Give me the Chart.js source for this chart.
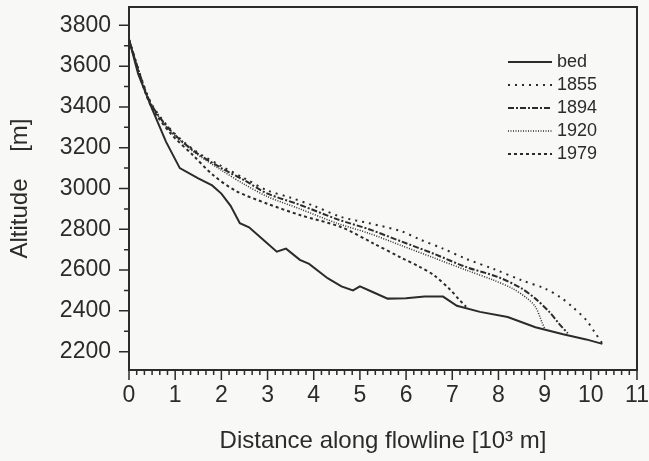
<!DOCTYPE html>
<html>
<head>
<meta charset="utf-8">
<script src="https://cdn.jsdelivr.net/npm/chart.js@4.4.1/dist/chart.umd.min.js"></script>
<style>
  html, body { margin: 0; padding: 0; background: #f8f9f7; }
  #wrap { width: 649px; height: 461px; }
</style>
</head>
<body>
<div id="wrap"><canvas id="myChart" width="649" height="461"></canvas></div>
<script>
// distance along flowline, 10^3 m / altitude, m
const bedX = [0, 0.2, 0.5, 0.8, 1.1, 1.5, 1.8, 2.0, 2.2, 2.4, 2.6, 2.9, 3.2, 3.4, 3.7, 3.9, 4.3, 4.6, 4.85, 5.0, 5.3, 5.6, 6.0, 6.4, 6.8, 7.1, 7.6, 8.2, 8.8, 9.4, 9.9, 10.25];
const bedY = [3730, 3560, 3390, 3230, 3100, 3050, 3015, 2975, 2915, 2830, 2810, 2750, 2690, 2705, 2650, 2630, 2560, 2520, 2500, 2520, 2490, 2460, 2462, 2470, 2470, 2425, 2395, 2370, 2320, 2285, 2260, 2238];

const x1855 = [0, 0.3, 0.5, 0.9, 1.4, 2.0, 2.5, 3.0, 3.5, 4.0, 4.6, 5.2, 5.9, 6.3, 6.8, 7.3, 7.9, 8.5, 9.0, 9.35, 9.6, 9.9, 10.1, 10.25];
const y1855 = [3730, 3520, 3410, 3290, 3190, 3110, 3050, 2990, 2955, 2915, 2860, 2830, 2790, 2750, 2705, 2655, 2605, 2550, 2510, 2465, 2420, 2355, 2290, 2240];

const x1894 = [0, 0.3, 0.5, 0.9, 1.4, 2.0, 2.5, 3.0, 3.7, 4.5, 5.2, 5.9, 6.6, 7.3, 8.0, 8.5, 8.8, 9.1, 9.3, 9.5];
const y1894 = [3730, 3515, 3405, 3285, 3185, 3100, 3040, 2975, 2920, 2850, 2800, 2740, 2680, 2615, 2565, 2510, 2460, 2395, 2340, 2290];

const x1920 = [0, 0.3, 0.5, 0.9, 1.4, 2.0, 2.5, 3.0, 3.7, 4.5, 5.2, 5.9, 6.6, 7.3, 7.9, 8.3, 8.6, 8.8, 8.95, 9.0];
const y1920 = [3730, 3510, 3400, 3280, 3180, 3090, 3020, 2960, 2900, 2830, 2780, 2720, 2660, 2600, 2550, 2510, 2465, 2420, 2340, 2313];

const x1979 = [0, 0.3, 0.5, 0.9, 1.4, 1.8, 2.3, 3.0, 3.7, 4.6, 5.3, 5.9, 6.3, 6.6, 6.95, 7.15, 7.3];
const y1979 = [3730, 3505, 3395, 3270, 3160, 3070, 2990, 2925, 2870, 2810, 2730, 2660, 2615, 2575, 2505, 2455, 2420];

const xTicks = [0, 1, 2, 3, 4, 5, 6, 7, 8, 9, 10, 11];
const yTicks = [2200, 2300, 2400, 2500, 2600, 2700, 2800, 2900, 3000, 3100, 3200, 3300, 3400, 3500, 3600, 3700, 3800];

const ink = '#2b2b2b';
const font = 'Liberation Sans, Arial, sans-serif';

const pts = (xs, ys) => xs.map((v, i) => ({ x: v, y: ys[i] }));

const series = [
    { label: 'bed',  data: pts(bedX, bedY),   dash: [],           width: 2,   smooth: 0 },
    { label: '1855', data: pts(x1855, y1855), dash: [2, 5],       width: 2,   smooth: 0.3 },
    { label: '1894', data: pts(x1894, y1894), dash: [6, 2, 2, 2], width: 2,   smooth: 0.3 },
    { label: '1920', data: pts(x1920, y1920), dash: [1, 1.5],     width: 1.5, smooth: 0.3 },
    { label: '1979', data: pts(x1979, y1979), dash: [3, 3],       width: 2,   smooth: 0.3 }
];

// box, tick marks (major + minor) and legend
const frame = {
    id: 'frame',
    afterDraw(chart) {
        const { ctx, chartArea: a, scales: { x, y } } = chart;
        ctx.save();
        ctx.strokeStyle = ink;
        ctx.lineWidth = 2;
        ctx.strokeRect(a.left, a.top, a.right - a.left, a.bottom - a.top);
        ctx.lineWidth = 1.5;
        ctx.beginPath();
        for (let i = 0; i <= 66; i++) {
            const px = x.getPixelForValue(i / 6);
            const len = i % 6 === 0 ? 10 : 5;
            ctx.moveTo(px, a.bottom);
            ctx.lineTo(px, a.bottom + len);
        }
        yTicks.forEach(v => {
            const py = y.getPixelForValue(v);
            const len = v % 200 === 0 ? 10 : 5;
            ctx.moveTo(a.left, py);
            ctx.lineTo(a.left - len, py);
        });
        ctx.stroke();

        // legend
        ctx.font = '18px ' + font;
        ctx.textBaseline = 'middle';
        ctx.fillStyle = ink;
        chart.data.datasets.forEach((ds, i) => {
            const ly = 62 + i * 23;
            ctx.beginPath();
            ctx.setLineDash(ds.borderDash);
            ctx.lineWidth = ds.borderWidth;
            ctx.moveTo(508, ly);
            ctx.lineTo(552, ly);
            ctx.stroke();
            ctx.setLineDash([]);
            ctx.fillText(ds.label, 557, ly);
        });
        ctx.restore();
    }
};

const canvas = document.getElementById('myChart');
const chart = new Chart(canvas.getContext('2d'), {
    type: 'line',
    data: {
        datasets: series.map(s => ({
            label: s.label,
            data: s.data,
            borderColor: ink,
            borderWidth: s.width,
            borderDash: s.dash,
            pointRadius: 0,
            tension: s.smooth,
            fill: false
        }))
    },
    options: {
        responsive: false,
        animation: false,
        layout: { padding: { top: 7, right: 12, left: 0, bottom: 0 } },
        plugins: { legend: { display: false }, tooltip: { enabled: false } },
        scales: {
            x: {
                type: 'linear',
                min: 0,
                max: 11,
                afterBuildTicks: s => { s.ticks = xTicks.map(v => ({ value: v })); },
                afterFit: s => { s.height = 91; s.paddingLeft = 0; s.paddingRight = 0; },
                grid: { display: false },
                border: { display: false },
                ticks: { autoSkip: false, maxRotation: 0, padding: 4, color: ink, font: { family: font, size: 23 } },
                title: { display: true, text: 'Distance along flowline [10³ m]', color: ink, padding: { top: 0, bottom: 5 }, font: { family: font, size: 24 } }
            },
            y: {
                type: 'linear',
                min: 2110,
                max: 3890,
                afterBuildTicks: s => { s.ticks = yTicks.map(v => ({ value: v })); },
                afterFit: s => { s.width = 129; s.paddingTop = 0; s.paddingBottom = 0; },
                grid: { display: false },
                border: { display: false },
                ticks: {
                    autoSkip: false,
                    padding: 10,
                    color: ink,
                    font: { family: font, size: 23 },
                    callback: v => (v % 200 === 0 ? String(v) : '')
                },
                title: { display: true, text: 'Altitude    [m]', color: ink, padding: { top: 6, bottom: 0 }, font: { family: font, size: 24 } }
            }
        }
    },
    plugins: [frame]
});
</script>
</body>
</html>
